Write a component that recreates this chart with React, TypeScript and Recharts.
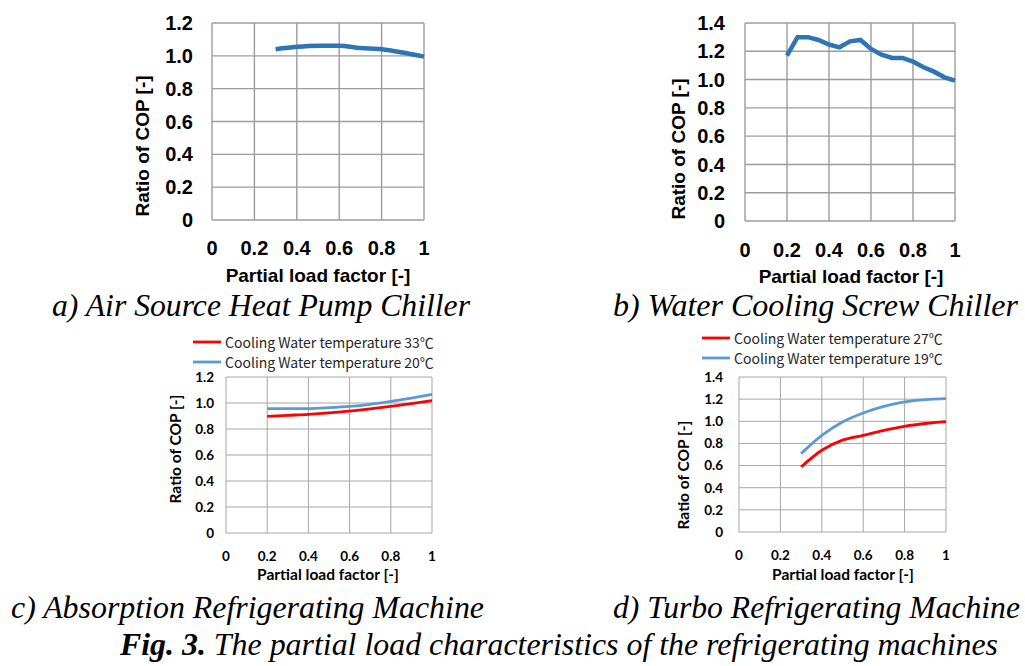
import React from 'react';
import { LineChart, Line, XAxis, YAxis, CartesianGrid, Legend } from 'recharts';

// ---- tick values ----
const xTicks = [0, 0.2, 0.4, 0.6, 0.8, 1];
const yTicks12 = [0, 0.2, 0.4, 0.6, 0.8, 1.0, 1.2];
const yTicks14 = [0, 0.2, 0.4, 0.6, 0.8, 1.0, 1.2, 1.4];

// ---- a) Air Source Heat Pump Chiller ----
const loadA = [0.3, 0.4, 0.5, 0.6, 0.7, 0.8, 0.9, 1.0];
const copA = [1.04, 1.055, 1.062, 1.062, 1.048, 1.04, 1.02, 0.995];

// ---- b) Water Cooling Screw Chiller ----
const loadB = [0.2, 0.25, 0.3, 0.35, 0.4, 0.45, 0.5, 0.55, 0.6, 0.65, 0.7, 0.75, 0.8, 0.85, 0.9, 0.95, 1.0];
const copB = [1.17, 1.3, 1.3, 1.28, 1.248, 1.228, 1.27, 1.28, 1.217, 1.176, 1.153, 1.153, 1.127, 1.087, 1.056, 1.016, 0.993];

// ---- c) Absorption Refrigerating Machine ----
const loadC = [0.2, 0.3, 0.4, 0.5, 0.6, 0.7, 0.8, 0.9, 1.0];
const copC33 = [0.897, 0.905, 0.913, 0.924, 0.937, 0.954, 0.974, 0.995, 1.018];
const copC20 = [0.956, 0.956, 0.957, 0.964, 0.974, 0.99, 1.012, 1.038, 1.067];
const labelC33 = 'Cooling Water temperature 33\u2103';
const labelC20 = 'Cooling Water temperature 20\u2103';

// ---- d) Turbo Refrigerating Machine ----
const loadD = [0.3, 0.4, 0.5, 0.6, 0.7, 0.8, 0.9, 1.0];
const copD27 = [0.587, 0.738, 0.83, 0.873, 0.918, 0.955, 0.98, 0.997];
const copD19 = [0.708, 0.873, 0.994, 1.075, 1.135, 1.175, 1.196, 1.205];
const labelD27 = 'Cooling Water temperature 27\u2103';
const labelD19 = 'Cooling Water temperature 19\u2103';

// ---- captions ----
const captionA = 'a) Air Source Heat Pump Chiller';
const captionB = 'b) Water Cooling Screw Chiller';
const captionC = 'c) Absorption Refrigerating Machine';
const captionD = 'd) Turbo Refrigerating Machine';
const figLabel = 'Fig. 3.';
const figTitle = ' The partial load characteristics of the refrigerating machines';

const xTitle = 'Partial load factor  [-]';
const yTitle = 'Ratio of COP [-]';

const dataA = loadA.map((x, i) => ({ x, v: copA[i] }));
const dataB = loadB.map((x, i) => ({ x, v: copB[i] }));
const dataC = loadC.map((x, i) => ({ x, a: copC33[i], b: copC20[i] }));
const dataD = loadD.map((x, i) => ({ x, a: copD27[i], b: copD19[i] }));

const fmtX = (v: number) => (v === 0 || v === 1 ? String(v) : v.toFixed(1));
const fmtY = (v: number) => (v === 0 ? '0' : v.toFixed(1));

type SeriesDef = { key: string; name: string; color: string; width: number; type: any };

type PanelProps = {
  left: number; top: number; width: number; height: number;
  mTop: number; mRight: number; yW: number; xH: number;
  yMax: number; yTicks: number[];
  data: any[]; series: SeriesDef[];
  font: string; tickSize: number; titleSize: number;
  yTickMargin: number; xTickMargin: number;
  gridColor: string; gridWidth: number;
  xTitlePos: [number, number]; yTitlePos: [number, number];
  legend?: { left: number; top: number; fontSize: number };
};

function Panel(p: PanelProps) {
  const tickStyle = { fontFamily: p.font, fontSize: p.tickSize, fontWeight: 700, fill: '#000' };
  const titleStyle: any = { fontFamily: p.font, fontSize: p.titleSize, fontWeight: 700, fill: '#000' };
  return (
    <div style={{ position: 'absolute', left: p.left, top: p.top }}>
      <LineChart
        width={p.width}
        height={p.height}
        data={p.data}
        margin={{ top: p.mTop, right: p.mRight, left: 0, bottom: 0 }}
      >
        <CartesianGrid stroke={p.gridColor} strokeWidth={p.gridWidth} />
        <XAxis
          type="number"
          dataKey="x"
          domain={[0, 1]}
          ticks={xTicks}
          tickFormatter={fmtX}
          axisLine={false}
          tickLine={false}
          tickSize={0}
          tickMargin={p.xTickMargin}
          height={p.xH}
          tick={tickStyle}
          interval={0}
          label={{
            content: () => (
              <text x={p.xTitlePos[0]} y={p.xTitlePos[1]} textAnchor="middle" style={titleStyle}>
                {xTitle}
              </text>
            ),
          }}
        />
        <YAxis
          type="number"
          domain={[0, p.yMax]}
          ticks={p.yTicks}
          tickFormatter={fmtY}
          axisLine={false}
          tickLine={false}
          tickSize={0}
          tickMargin={p.yTickMargin}
          width={p.yW}
          tick={tickStyle}
          interval={0}
          label={{
            content: () => (
              <text
                x={p.yTitlePos[0]}
                y={p.yTitlePos[1]}
                textAnchor="middle"
                transform={`rotate(-90 ${p.yTitlePos[0]} ${p.yTitlePos[1]})`}
                style={titleStyle}
              >
                {yTitle}
              </text>
            ),
          }}
        />
        {p.legend ? (
          <Legend
            layout="vertical"
            verticalAlign="middle"
            align="center"
            wrapperStyle={{ left: p.legend.left, top: p.legend.top, width: 'auto', height: 'auto' }}
            content={() => (
              <div style={{ fontFamily: '"Noto Sans CJK JP", "Noto Sans", sans-serif', fontSize: p.legend!.fontSize, color: '#262626' }}>
                {p.series.map((s, i) => (
                  <div key={i} style={{ display: 'flex', alignItems: 'center', height: 20, whiteSpace: 'nowrap' }}>
                    <svg width={28} height={4} style={{ display: 'block' }}>
                      <line x1={0} y1={2} x2={28} y2={2} stroke={s.color} strokeWidth={2.8} />
                    </svg>
                    <span style={{ marginLeft: 4, lineHeight: '20px' }}>{s.name}</span>
                  </div>
                ))}
              </div>
            )}
          />
        ) : null}
        {p.series.map((s) => (
          <Line
            key={s.key}
            type={s.type}
            dataKey={s.key}
            name={s.name}
            stroke={s.color}
            strokeWidth={s.width}
            dot={false}
            activeDot={false}
            isAnimationActive={false}
          />
        ))}
      </LineChart>
    </div>
  );
}

export default function App() {
  const serif = '"Liberation Serif", "Times New Roman", serif';
  const capStyle: any = { fontFamily: serif, fontSize: 31.5, fontStyle: 'italic', fill: '#000' };
  return (
    <div style={{ position: 'absolute', left: 0, top: 0, width: 1025, height: 666, background: '#fff', overflow: 'hidden' }}>
      <Panel
        left={130} top={0} width={320} height={290}
        mTop={23} mRight={26} yW={82} xH={70}
        yMax={1.2} yTicks={yTicks12}
        data={dataA}
        series={[{ key: 'v', name: 'a', color: '#2E75B6', width: 4.5, type: 'monotone' }]}
        font='"Liberation Sans", Arial, sans-serif' tickSize={20} titleSize={19}
        yTickMargin={19} xTickMargin={21}
        gridColor="#9c9c9c" gridWidth={1.4}
        xTitlePos={[188, 282]} yTitlePos={[19, 146]}
      />
      <Panel
        left={660} top={0} width={320} height={290}
        mTop={23} mRight={25} yW={85} xH={69}
        yMax={1.4} yTicks={yTicks14}
        data={dataB}
        series={[{ key: 'v', name: 'b', color: '#2E75B6', width: 4.5, type: 'linear' }]}
        font='"Liberation Sans", Arial, sans-serif' tickSize={20} titleSize={19}
        yTickMargin={20} xTickMargin={22}
        gridColor="#9c9c9c" gridWidth={1.4}
        xTitlePos={[191, 283]} yTitlePos={[25, 149]}
      />
      <Panel
        left={160} top={325} width={290} height={260}
        mTop={52} mRight={18} yW={66} xH={52}
        yMax={1.2} yTicks={yTicks12}
        data={dataC}
        series={[
          { key: 'a', name: labelC33, color: '#FF0000', width: 2.8, type: 'monotone' },
          { key: 'b', name: labelC20, color: '#5B9BD5', width: 2.8, type: 'monotone' },
        ]}
        font='Lato, "Open Sans", sans-serif' tickSize={13.5} titleSize={15.5}
        yTickMargin={12} xTickMargin={18}
        gridColor="#a6a6a6" gridWidth={1}
        xTitlePos={[168, 255]} yTitlePos={[21, 124]}
        legend={{ left: 33, top: 7, fontSize: 14 }}
      />
      <Panel
        left={670} top={325} width={310} height={260}
        mTop={52} mRight={34} yW={69} xH={53}
        yMax={1.4} yTicks={yTicks14}
        data={dataD}
        series={[
          { key: 'a', name: labelD27, color: '#FF0000', width: 2.8, type: 'monotone' },
          { key: 'b', name: labelD19, color: '#5B9BD5', width: 2.8, type: 'monotone' },
        ]}
        font='Lato, "Open Sans", sans-serif' tickSize={13.5} titleSize={15.5}
        yTickMargin={16} xTickMargin={18}
        gridColor="#a6a6a6" gridWidth={1}
        xTitlePos={[173, 255]} yTitlePos={[19, 150]}
        legend={{ left: 32, top: 3, fontSize: 14 }}
      />
      <svg width={1025} height={666} style={{ position: 'absolute', left: 0, top: 0, pointerEvents: 'none' }}>
        <text x={52} y={316} textLength={418} lengthAdjust="spacingAndGlyphs" style={capStyle}>{captionA}</text>
        <text x={613} y={316} textLength={405} lengthAdjust="spacingAndGlyphs" style={capStyle}>{captionB}</text>
        <text x={11} y={618} textLength={473} lengthAdjust="spacingAndGlyphs" style={capStyle}>{captionC}</text>
        <text x={613} y={618} textLength={407} lengthAdjust="spacingAndGlyphs" style={capStyle}>{captionD}</text>
        <text x={120} y={655} textLength={878} lengthAdjust="spacingAndGlyphs" style={capStyle}>
          <tspan fontWeight={700}>{figLabel}</tspan>
          {figTitle}
        </text>
      </svg>
    </div>
  );
}
